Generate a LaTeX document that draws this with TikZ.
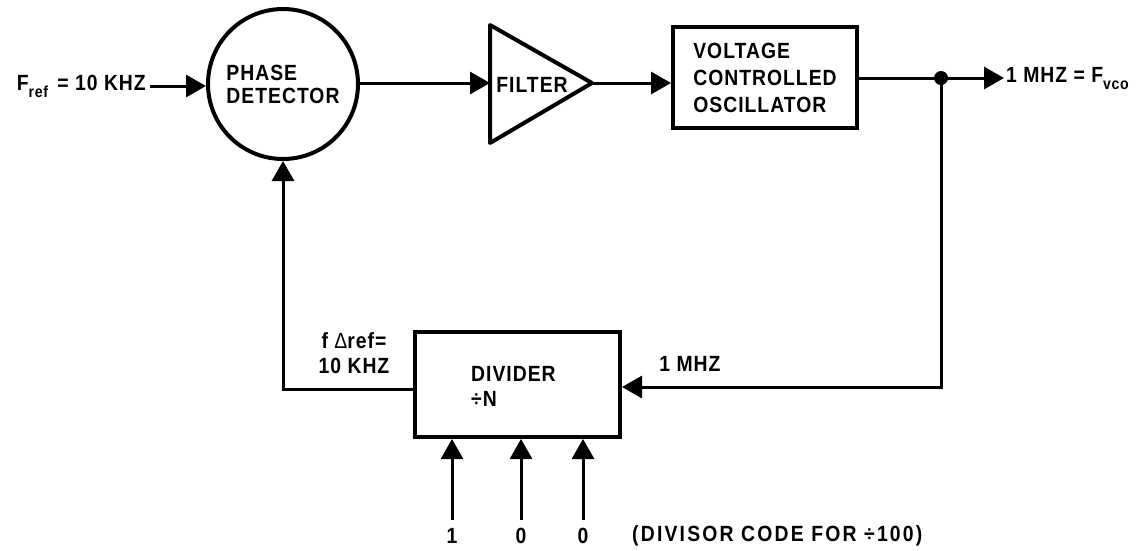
\documentclass[tikz,border=0pt]{standalone}
\usepackage{fontspec}
\setmainfont{Liberation Sans}[FakeStretch=0.88, LetterSpace=4.5]
\usetikzlibrary{arrows.meta}
\begin{document}
\begin{tikzpicture}[x=1pt,y=-1pt,
  every node/.style={font=\fontsize{22}{25}\selectfont\bfseries, inner sep=0pt},
  blk/.style={draw, line width=4pt},
  wire/.style={line width=3pt},
  arr/.style={wire, -{Triangle[length=20pt,width=22pt]}}
]
\useasboundingbox (0,0) rectangle (1145,550);
% blocks
\node[blk, circle, minimum size=150pt, align=left, font=\fontsize{22}{23}\selectfont\bfseries] (pd) at (283,84)
  {PHASE\\DETECTOR};
\draw[line width=4pt, line join=round] (490,25) -- (592,83) -- (490,143) -- cycle;
\coordinate (filin) at (490,83);
\coordinate (filout) at (592,83);
\node (filt) at (532,85) {FILTER};
\node[blk, minimum width=184pt, minimum height=101pt, align=left, font=\fontsize{22}{27}\selectfont\bfseries] (vco) at (765,77.5)
  {VOLTAGE\\CONTROLLED\\OSCILLATOR};
\node[blk, minimum width=205pt, minimum height=105pt] (dv) at (517.5,384.5) {};
\node[anchor=west, align=left] (dvt) at (471,386) {DIVIDER\\÷N};
% input
\node[anchor=east] (fref) at (146,86)
  {F\raisebox{-7pt}{\fontsize{16}{16}\selectfont ref}\hspace{3pt} = 10 KHZ};
\coordinate (fin) at (150,86);
\draw[arr] (fin) -- (fin -| pd.west);
\draw[arr] (pd.east |- filin) -- (filin);
\draw[arr] (filout) -- (filout -| vco.west);
% output
\coordinate (j) at (941,78);
\coordinate (oend) at (1004,78);
\draw[wire] (vco.east |- j) -- (j);
\draw[arr] (j) -- (oend);
\fill (j) circle (7pt);
\node[anchor=west] (fout) at (1006,79)
  {1 MHZ = F\raisebox{-7pt}{\fontsize{16}{16}\selectfont vco}};
% feedback
\coordinate (jin) at (941,387);
\draw[arr] (j) -- (jin) -- (dv.east |- jin);
\coordinate (fbl) at (283,389);
\draw[arr] (dv.west |- fbl) -- (fbl) -- (pd.south);
\node (mhz) at (690,364) {1 MHZ};
\node[align=center] (dref) at (354,353) {f {\mdseries Δ}ref=\\10 KHZ};
% code inputs
\coordinate (b1) at (452,520);
\coordinate (b2) at (521,520);
\coordinate (b3) at (583,520);
\draw[arr] (b1) -- (b1 |- dv.south);
\draw[arr] (b2) -- (b2 |- dv.south);
\draw[arr] (b3) -- (b3 |- dv.south);
\node (c1) at (452,536) {1};
\node (c2) at (521,536) {0};
\node (c3) at (583,536) {0};
\node[anchor=west] (code) at (632,536) {\addfontfeature{LetterSpace=10}(DIVISOR CODE FOR ÷100)};
\end{tikzpicture}
\end{document}
